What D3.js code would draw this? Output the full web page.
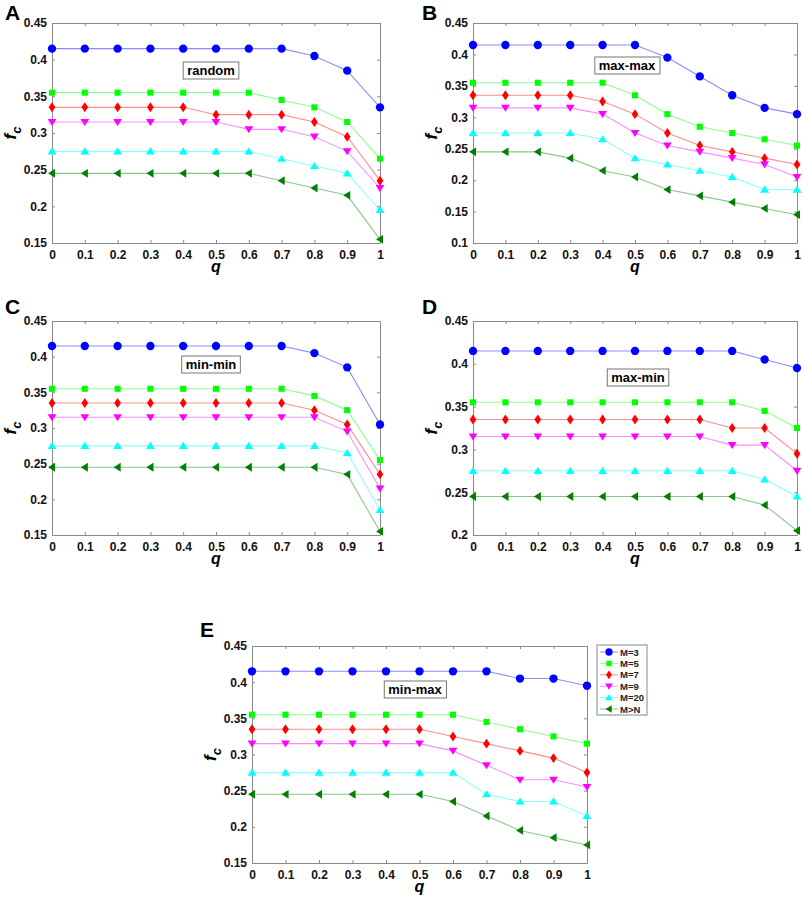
<!DOCTYPE html>
<html>
<head>
<meta charset="utf-8">
<script src="https://cdn.jsdelivr.net/npm/d3@7"></script>
<style>
  body { margin: 0; background: #fff; }
  svg text { font-family: "Liberation Sans", Arial, sans-serif; }
</style>
</head>
<body>
<div id="chart"></div>
<script>
// fc against q for the five attack strategies, six values of M each

var qValues = [0, 0.1, 0.2, 0.3, 0.4, 0.5, 0.6, 0.7, 0.8, 0.9, 1];
var seriesNames = ["M=3", "M=5", "M=7", "M=9", "M=20", "M>N"];

var fcRandom = [
  [0.415, 0.415, 0.415, 0.415, 0.415, 0.415, 0.415, 0.415, 0.405, 0.385, 0.335],
  [0.355, 0.355, 0.355, 0.355, 0.355, 0.355, 0.355, 0.345, 0.335, 0.315, 0.265],
  [0.335, 0.335, 0.335, 0.335, 0.335, 0.325, 0.325, 0.325, 0.315, 0.295, 0.235],
  [0.315, 0.315, 0.315, 0.315, 0.315, 0.315, 0.305, 0.305, 0.295, 0.275, 0.225],
  [0.275, 0.275, 0.275, 0.275, 0.275, 0.275, 0.275, 0.265, 0.255, 0.245, 0.195],
  [0.245, 0.245, 0.245, 0.245, 0.245, 0.245, 0.245, 0.235, 0.225, 0.215, 0.155]
];
var fcMaxMax = [
  [0.415, 0.415, 0.415, 0.415, 0.415, 0.415, 0.395, 0.365, 0.335, 0.315, 0.305],
  [0.355, 0.355, 0.355, 0.355, 0.355, 0.335, 0.305, 0.285, 0.275, 0.265, 0.255],
  [0.335, 0.335, 0.335, 0.335, 0.325, 0.305, 0.275, 0.255, 0.245, 0.235, 0.225],
  [0.315, 0.315, 0.315, 0.315, 0.305, 0.275, 0.255, 0.245, 0.235, 0.225, 0.205],
  [0.275, 0.275, 0.275, 0.275, 0.265, 0.235, 0.225, 0.215, 0.205, 0.185, 0.185],
  [0.245, 0.245, 0.245, 0.235, 0.215, 0.205, 0.185, 0.175, 0.165, 0.155, 0.145]
];
var fcMinMin = [
  [0.415, 0.415, 0.415, 0.415, 0.415, 0.415, 0.415, 0.415, 0.405, 0.385, 0.305],
  [0.355, 0.355, 0.355, 0.355, 0.355, 0.355, 0.355, 0.355, 0.345, 0.325, 0.255],
  [0.335, 0.335, 0.335, 0.335, 0.335, 0.335, 0.335, 0.335, 0.325, 0.305, 0.235],
  [0.315, 0.315, 0.315, 0.315, 0.315, 0.315, 0.315, 0.315, 0.315, 0.295, 0.215],
  [0.275, 0.275, 0.275, 0.275, 0.275, 0.275, 0.275, 0.275, 0.275, 0.265, 0.185],
  [0.245, 0.245, 0.245, 0.245, 0.245, 0.245, 0.245, 0.245, 0.245, 0.235, 0.155]
];
var fcMaxMin = [
  [0.415, 0.415, 0.415, 0.415, 0.415, 0.415, 0.415, 0.415, 0.415, 0.405, 0.395],
  [0.355, 0.355, 0.355, 0.355, 0.355, 0.355, 0.355, 0.355, 0.355, 0.345, 0.325],
  [0.335, 0.335, 0.335, 0.335, 0.335, 0.335, 0.335, 0.335, 0.325, 0.325, 0.295],
  [0.315, 0.315, 0.315, 0.315, 0.315, 0.315, 0.315, 0.315, 0.305, 0.305, 0.275],
  [0.275, 0.275, 0.275, 0.275, 0.275, 0.275, 0.275, 0.275, 0.275, 0.265, 0.245],
  [0.245, 0.245, 0.245, 0.245, 0.245, 0.245, 0.245, 0.245, 0.245, 0.235, 0.205]
];
var fcMinMax = [
  [0.415, 0.415, 0.415, 0.415, 0.415, 0.415, 0.415, 0.415, 0.405, 0.405, 0.395],
  [0.355, 0.355, 0.355, 0.355, 0.355, 0.355, 0.355, 0.345, 0.335, 0.325, 0.315],
  [0.335, 0.335, 0.335, 0.335, 0.335, 0.335, 0.325, 0.315, 0.305, 0.295, 0.275],
  [0.315, 0.315, 0.315, 0.315, 0.315, 0.315, 0.305, 0.285, 0.265, 0.265, 0.255],
  [0.275, 0.275, 0.275, 0.275, 0.275, 0.275, 0.275, 0.245, 0.235, 0.235, 0.215],
  [0.245, 0.245, 0.245, 0.245, 0.245, 0.245, 0.235, 0.215, 0.195, 0.185, 0.175]
];

var xTicks = [0, 0.1, 0.2, 0.3, 0.4, 0.5, 0.6, 0.7, 0.8, 0.9, 1];
var yTicksA = [0.15, 0.2, 0.25, 0.3, 0.35, 0.4, 0.45];
var yTicksB = [0.1, 0.15, 0.2, 0.25, 0.3, 0.35, 0.4, 0.45];
var yTicksD = [0.2, 0.25, 0.3, 0.35, 0.4, 0.45];

var colors = ["#0000ff", "#00ff00", "#ff0000", "#ff00ff", "#00ffff", "#007f00"];
var shapes = ["circle", "square", "diamond", "down", "up", "left"];

var svg = d3.select("#chart").append("svg")
  .attr("width", 803)
  .attr("height", 900);

var panels = [
  {letter: "A", label: "random",  data: fcRandom, yTicks: yTicksA, box: [52, 23, 380, 243],  lx: 5,   ly: 20,  note: [211, 70]},
  {letter: "B", label: "max-max", data: fcMaxMax, yTicks: yTicksB, box: [473, 23, 797, 243], lx: 422, ly: 20,  note: [627, 65]},
  {letter: "C", label: "min-min", data: fcMinMin, yTicks: yTicksA, box: [52, 321, 380, 535], lx: 5,   ly: 314, note: [211, 364]},
  {letter: "D", label: "max-min", data: fcMaxMin, yTicks: yTicksD, box: [473, 321, 797, 535], lx: 422, ly: 314, note: [638, 377]},
  {letter: "E", label: "min-max", data: fcMinMax, yTicks: yTicksA, box: [252, 646, 587, 863], lx: 200, ly: 637, note: [415, 689], legend: true}
];

function markerPath(shape, s) {
  if (shape == "circle") return d3.symbol(d3.symbolCircle, s * s * 0.85)();
  if (shape == "square") return "M" + (-s * 0.38) + "," + (-s * 0.38) + "h" + (s * 0.76) + "v" + (s * 0.76) + "h" + (-s * 0.76) + "Z";
  if (shape == "diamond") return "M0," + (-s * 0.62) + "L" + (s * 0.42) + ",0L0," + (s * 0.62) + "L" + (-s * 0.42) + ",0Z";
  var r = s * 0.55;
  if (shape == "down") return "M" + (-r) + "," + (-r * 0.7) + "L" + r + "," + (-r * 0.7) + "L0," + (r * 0.9) + "Z";
  if (shape == "up") return "M" + (-r) + "," + (r * 0.7) + "L" + r + "," + (r * 0.7) + "L0," + (-r * 0.9) + "Z";
  return "M" + (r * 0.7) + "," + (-r) + "L" + (r * 0.7) + "," + r + "L" + (-r * 0.9) + ",0Z";
}

function fmt(d) { return d === 0 ? "0" : String(+d.toFixed(2)); }

panels.forEach(function(p) {
  var x0 = p.box[0], y0 = p.box[1], x1 = p.box[2], y1 = p.box[3];
  var x = d3.scaleLinear().domain([0, 1]).range([x0, x1]);
  var y = d3.scaleLinear().domain([p.yTicks[0], 0.45]).range([y1, y0]);
  var g = svg.append("g");

  // panel letter
  g.append("text").attr("x", p.lx).attr("y", p.ly)
    .style("font-size", "21px").style("font-weight", "bold").text(p.letter);

  // axes, matlab style: ticks inside on all four sides
  var axB = g.append("g").attr("transform", "translate(0," + y1 + ")")
    .call(d3.axisBottom(x).tickValues(xTicks).tickFormat(fmt).tickSizeInner(-3).tickSizeOuter(0).tickPadding(7));
  var axL = g.append("g").attr("transform", "translate(" + x0 + ",0)")
    .call(d3.axisLeft(y).tickValues(p.yTicks).tickFormat(fmt).tickSizeInner(-3).tickSizeOuter(0).tickPadding(5));
  var axT = g.append("g").attr("transform", "translate(0," + y0 + ")")
    .call(d3.axisTop(x).tickValues(xTicks).tickFormat("").tickSizeInner(-3).tickSizeOuter(0));
  var axR = g.append("g").attr("transform", "translate(" + x1 + ",0)")
    .call(d3.axisRight(y).tickValues(p.yTicks).tickFormat("").tickSizeInner(-3).tickSizeOuter(0));
  [axB, axL, axT, axR].forEach(function(a) {
    a.select(".domain").attr("stroke", "#8a8a8a");
    a.selectAll(".tick line").attr("stroke", "#8a8a8a");
    a.selectAll("text").attr("fill", "#111").style("font-size", "12px").style("font-weight", "bold")
      .style("font-family", "'Liberation Sans', Arial, sans-serif");
  });

  // axis labels
  g.append("text").attr("x", (x0 + x1) / 2).attr("y", y1 + 29).attr("text-anchor", "middle")
    .style("font-size", "16px").style("font-weight", "bold").style("font-style", "italic").text("q");
  var yl = g.append("text").attr("transform", "translate(" + (x0 - 36) + "," + ((y0 + y1) / 2) + ") rotate(-90)")
    .attr("text-anchor", "middle").style("font-size", "17px").style("font-weight", "bold").style("font-style", "italic");
  yl.append("tspan").text("f");
  yl.append("tspan").attr("dy", 5).style("font-size", "13px").text("c");

  // series
  var line = d3.line().x(function(d, i) { return x(qValues[i]); }).y(function(d) { return y(d); });
  p.data.forEach(function(vals, k) {
    g.append("path").datum(vals).attr("d", line).attr("fill", "none")
      .attr("stroke", colors[k]).attr("stroke-opacity", 0.45).attr("stroke-width", 1.1);
    g.selectAll(".m" + k).data(vals).enter().append("path")
      .attr("transform", function(d, i) { return "translate(" + x(qValues[i]) + "," + y(d) + ")"; })
      .attr("d", markerPath(shapes[k], 8)).attr("fill", colors[k]);
  });

  // strategy label box
  var nbox = g.append("rect");
  var nt = g.append("text").attr("x", p.note[0]).attr("y", p.note[1] + 5).attr("text-anchor", "middle")
    .style("font-size", "13px").style("font-weight", "bold").text(p.label);
  var bb = nt.node().getBBox();
  nbox.attr("x", bb.x - 4).attr("y", bb.y - 1)
    .attr("width", bb.width + 8).attr("height", bb.height + 2)
    .attr("fill", "#fff").attr("stroke", "#777").attr("stroke-width", 1);

  if (p.legend) {
    var lg = g.append("g").attr("transform", "translate(597,645)");
    lg.append("rect").attr("width", 50).attr("height", 70).attr("fill", "#fff").attr("stroke", "#888");
    seriesNames.forEach(function(name, k) {
      var ly = 7 + k * 11.4;
      lg.append("line").attr("x1", 3).attr("x2", 21).attr("y1", ly).attr("y2", ly)
        .attr("stroke", colors[k]).attr("stroke-opacity", 0.45);
      lg.append("path").attr("transform", "translate(12," + ly + ")")
        .attr("d", markerPath(shapes[k], 7)).attr("fill", colors[k]);
      lg.append("text").attr("x", 23).attr("y", ly + 3.5)
        .style("font-size", "9.5px").style("font-weight", "bold").attr("fill", "#222").text(name);
    });
  }
});
</script>
</body>
</html>
